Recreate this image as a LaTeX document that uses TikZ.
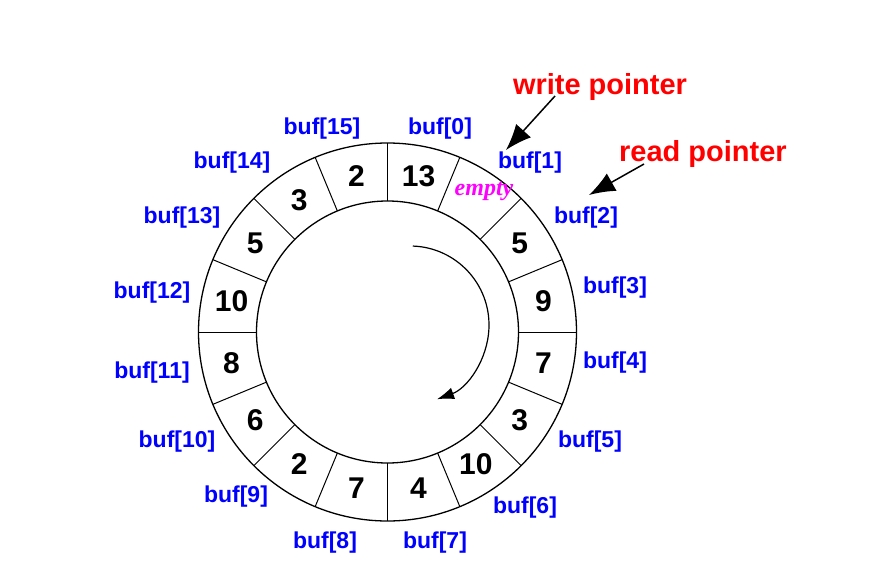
\documentclass[tikz,border=0pt]{standalone}
\usepackage{fontspec}
\setmainfont{Liberation Sans}
\newfontfamily\emptyfont{Liberation Serif}
\usetikzlibrary{arrows.meta}

\definecolor{mag}{RGB}{255,0,255}
\tikzstyle{ring}=[black, line width=1.3pt]
\tikzstyle{wall}=[black, line width=1pt]
\tikzstyle{val}=[black, font=\fontsize{30}{30}\selectfont\bfseries, inner sep=0pt]
\tikzstyle{lbl}=[blue, font=\fontsize{23}{23}\selectfont\bfseries, inner sep=0pt]
\tikzstyle{ptr}=[red, font=\fontsize{29}{29}\selectfont\bfseries, inner sep=0pt]
\tikzstyle{emptytag}=[mag, font=\emptyfont\fontsize{24}{24}\selectfont\bfseries\itshape, inner sep=0pt]
\tikzstyle{arr}=[black, line width=1.5pt, -{Latex[length=26pt,width=20pt]}]
\tikzstyle{turn}=[black, line width=1.2pt, -{Latex[length=17pt,width=12pt]}]

\begin{document}
\begin{tikzpicture}[x=1pt, y=-1pt]
  \useasboundingbox (0,0) rectangle (875,586);
  \coordinate (c) at (387.5,332);
  \coordinate (spin) at (410,325);

  % the ring buffer
  \draw [ring] (c) circle[radius=189pt];
  \draw [ring] (c) circle[radius=131pt];
  \foreach \a in {0,...,15}
    \draw [wall] ([shift={(90-22.5*\a:131pt)}]c) -- ([shift={(90-22.5*\a:189pt)}]c);

  % stored values
  \foreach \i/\v in {0/13,2/5,3/9,4/7,5/3,6/10,7/4,8/7,9/2,10/6,11/8,12/10,13/5,14/3,15/2}
    \node [val] (v\i) at ([shift={(78.75-22.5*\i:159pt)}]c) {\v};
  \node [emptytag] (v1) at (484,191) {empty};

  % slot names
  \foreach \i/\x/\y in {0/440/129, 1/530/163, 2/586/218, 3/615/288, 4/615/363, 5/590/442,
      6/525/508, 7/435/543, 8/325/543, 9/236/497, 10/177/442, 11/152/373,
      12/152/293, 13/182/218, 14/232/163, 15/322/129}
    \node [lbl] (b\i) at (\x,\y) {buf[\i]};

  % pointers
  \node [ptr] (wp) at (600,87) {write pointer};
  \node [ptr] (rp) at (703,154) {read pointer};
  \coordinate (wp-tail) at (555,96);
  \coordinate (wp-head) at (506,150);
  \coordinate (rp-tail) at (644,164);
  \coordinate (rp-head) at (589,195);
  \draw [arr] (wp-tail) -- (wp-head);
  \draw [arr] (rp-tail) -- (rp-head);

  % direction of travel
  \draw [turn] ([shift={(88:79pt)}]spin) arc[start angle=88, end angle=-70, radius=79pt];
\end{tikzpicture}
\end{document}
